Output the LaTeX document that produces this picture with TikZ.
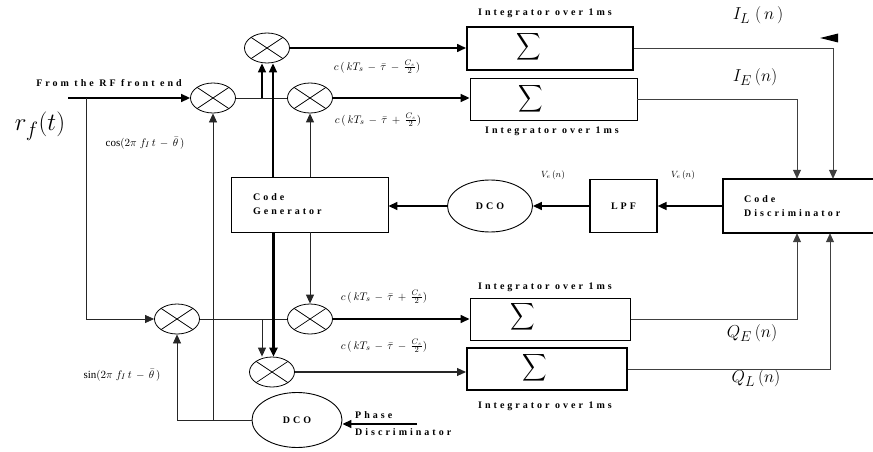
\documentclass[tikz,border=0pt]{standalone}
\usepackage{fontspec}
\setmainfont{Liberation Serif}
\newfontfamily\spc[LetterSpace=30]{Liberation Serif}
\usetikzlibrary{shapes.geometric,arrows.meta,calc}
\begin{document}
\begin{tikzpicture}[x=1pt,y=-1pt,
  wire/.style={draw=black!85, line width=0.7pt},
  gw/.style={draw=black!75, line width=0.8pt},
  bold/.style={line width=1.6pt},
  arr/.style={-{Triangle[length=9pt,width=8pt]}},
  mixer/.style={ellipse, draw, line width=0.8pt, minimum width=45pt, minimum height=30pt, inner sep=0pt,
    path picture={\draw[line width=0.7pt] (path picture bounding box.north west) -- (path picture bounding box.south east)
      (path picture bounding box.south west) -- (path picture bounding box.north east);}},
  box/.style={draw, rectangle, inner sep=0pt},
  lab/.style={font=\spc\bfseries\fontsize{10}{14}\selectfont, inner sep=0pt},
  mlab/.style={font=\fontsize{11}{12}\selectfont, inner sep=0pt},
  big/.style={font=\fontsize{19}{20}\selectfont, inner sep=0pt},
  sig/.style={inner sep=0pt},
  oval/.style={ellipse, draw, line width=0.9pt, inner sep=0pt}
]
\useasboundingbox (0,0) rectangle (873,452);

% mixers
\node[mixer] (mt) at (267,48) {};
\node[mixer] (mi) at (213,98) {};
\node[mixer] (me) at (310,98) {};
\node[mixer] (mq) at (177,319) {};
\node[mixer] (mqe) at (310,319) {};
\node[mixer] (mql) at (272,372) {};

% integrators
\node[box, line width=2pt, minimum width=166pt, minimum height=43pt] (il) at (550,48.5) {};
\node[box, line width=0.8pt, minimum width=167pt, minimum height=42pt] (ie) at (553.5,99) {};
\node[box, line width=1pt, minimum width=160pt, minimum height=42pt] (qe) at (550,319) {};
\node[box, line width=2pt, minimum width=160pt, minimum height=42pt] (ql) at (547,369) {};
\node[sig] (sil) at (529,47) {\scalebox{1.7}[1.9]{$\displaystyle\sum$}};
\node[sig] (sie) at (531,99) {\scalebox{1.7}[1.9]{$\displaystyle\sum$}};
\node[sig] (sqe) at (523,317) {\scalebox{1.7}[1.9]{$\displaystyle\sum$}};
\node[sig] (sql) at (535,368) {\scalebox{1.7}[1.9]{$\displaystyle\sum$}};

% blocks
\node[box, line width=0.9pt, minimum width=157pt, minimum height=55pt] (cg) at (309.5,204.5) {};
\node[lab, anchor=west, align=left] (cgt) at (253,204) {Code\\Generator};
\node[box, lab, line width=1.2pt, minimum width=67pt, minimum height=53pt] (lpf) at (623.5,206) {LPF};
\node[minimum width=150pt, minimum height=54pt, inner sep=0pt] (cd) at (798,206) {};
\draw[line width=1.6pt] (cd.north east) -- (cd.north west) -- (cd.south west) -- (cd.south east);
\node[lab, anchor=west, align=left] (cdt) at (744,206) {Code\\Discriminator};
\node[oval, lab, minimum width=85pt, minimum height=52pt] (dco1) at (490,206) {DCO};
\node[oval, lab, minimum width=90pt, minimum height=55pt] (dco2) at (297,420) {DCO};

% labels
\node[lab] (rfl) at (109,83) {From the RF front end};
\node[font=\fontsize{28}{29}\selectfont, inner sep=0pt] (rft) at (40,126) {$r_f(t)$};
\node[mlab] (cosl) at (145,143) {$\cos(2\pi\; f_I\, t\,-\,\bar\theta\,)$};
\node[mlab] (sinl) at (122,375) {$\sin(2\pi\; f_I\, t\,-\,\bar\theta\,)$};
\node[mlab] (c1) at (377,67) {$c\,(\,kT_s\,-\,\bar\tau\,-\,\frac{C_s}{2})$};
\node[mlab] (c2) at (378,120) {$c\,(\,kT_s\,-\,\bar\tau\,+\,\frac{C_s}{2})$};
\node[mlab] (c3) at (384,297) {$c\,(\,kT_s\,-\,\bar\tau\,+\,\frac{C_s}{2})$};
\node[mlab] (c4) at (384,346) {$c\,(\,kT_s\,-\,\bar\tau\,-\,\frac{C_s}{2})$};
\node[lab] (int1) at (545,13) {Integrator over 1ms};
\node[lab] (int2) at (552,131) {Integrator over 1ms};
\node[lab] (int3) at (545,287) {Integrator over 1ms};
\node[lab] (int4) at (545,406) {Integrator over 1ms};
\node[big] (iln) at (758,15) {$I_L\;(\,n\,)$};
\node[big] (ien) at (755,77) {$I_E\,(n)$};
\node[big] (qen) at (752,333) {$Q_E\,(n)$};
\node[big] (qln) at (756,378) {$Q_L\,(n)$};
\node[mlab, font=\fontsize{9}{10}\selectfont] (ve1) at (553,175) {$V_e\,(n)$};
\node[mlab, font=\fontsize{9}{10}\selectfont] (ve2) at (683,175) {$V_e\,(n)$};
\node[lab, anchor=west] (ph1) at (355,415) {Phase};
\node[lab, anchor=west] (ph2) at (355,432) {Discriminator};

% input
\coordinate (in) at (68,98);
\coordinate (br) at (86,98);
\draw[bold, arr] (in) -- (mi.west);
\draw[wire, arr] (br) |- (mq.west);

% in-phase arm
\draw[wire] (mi.east) -- (me.west);
\coordinate (j1) at (262,98);
\draw[bold, arr] (j1) -- (j1 |- mt.south);
\draw[bold, arr] ($(cg.north)+(-36.5,0)$) -- ($(mt.south)+(6,0)$);
\draw[wire, line width=1pt, arr] (cg.north -| me.south) -- (me.south);
\draw[bold, arr] (mt.east) -- (mt.east -| il.west);
\draw[bold, arr] (me.east) -- (me.east -| ie.west);

% quadrature arm
\draw[wire] (mq.east) -- (mqe.west);
\coordinate (j2) at (262,319);
\draw[wire, line width=1pt, arr] (j2) -- (j2 |- mql.north);
\draw[line width=2.2pt, arr] ($(cg.south)+(-36,0)$) -- ($(mql.north)+(1.5,0)$);
\draw[wire, line width=1pt, arr] (cg.south -| mqe.north) -- (mqe.north);
\draw[bold, arr] (mqe.east) -- (mqe.east -| qe.west);
\draw[wire, line width=1.1pt, arr] (mql.east) -- (mql.east -| ql.west);

% to discriminator
\draw[gw, arr] (il.east) -| ($(cd.north)+(35,0)$);
\draw[gw, arr] (ie.east) -| ($(cd.north)+(-1,0)$);
\draw[gw, arr] (qe.east) -| ($(cd.south)+(-1,0)$);
\draw[gw, arr] (ql.east) -| ($(cd.south)+(32,0)$);

% loop
\draw[bold, arr] (cd.west) -- (cd.west -| lpf.east);
\draw[bold, arr] (lpf.west) -- (lpf.west -| dco1.east);
\draw[bold, arr] (dco1.west) -- (dco1.west -| cg.east);

% carrier DCO
\draw[wire, arr] (dco2.west) -| (mq.south);
\draw[wire, arr] (mi.south |- dco2.west) -- (mi.south);
\coordinate (pd) at (417,424);
\draw[bold, arr] (pd) -- (pd -| dco2.east);

% stray arrowhead
\fill (820,38) -- (838,33.5) -- (838,42.5) -- cycle;
\end{tikzpicture}
\end{document}
